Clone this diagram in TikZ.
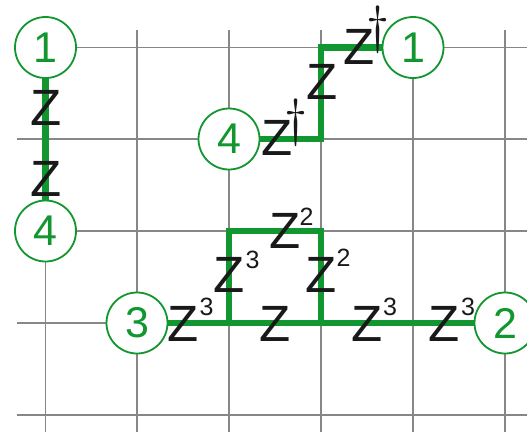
\documentclass[tikz,border=0pt]{standalone}
\usepackage{fontspec}
\setmainfont{Liberation Sans}
\newfontfamily\daggerfont{Latin Modern Roman}
\definecolor{pathgreen}{RGB}{18,150,48}
\definecolor{gridgray}{RGB}{135,135,135}
\definecolor{zblack}{RGB}{25,25,25}
\begin{document}
\begin{tikzpicture}[x=1pt,y=-1pt,
  gridline/.style={draw=gridgray,line width=1.1pt},
  bond/.style={draw=pathgreen,line width=6.8pt},
  site/.style={circle,draw=pathgreen,line width=1.8pt,fill=white,minimum size=61pt,inner sep=0pt,text=pathgreen,font=\fontsize{43}{43}\selectfont},
  zlab/.style={inner sep=0pt,text=zblack,font=\fontsize{51}{51}\selectfont},
  suplab/.style={inner sep=0pt,text=zblack,font=\fontsize{25}{25}\selectfont},
  daglab/.style={inner sep=0pt,text=zblack,font=\daggerfont\fontsize{52}{52}\selectfont}]
\useasboundingbox (0,0) rectangle (527,432);
% grid
\foreach \yy in {47.5,139,231,323,415} \draw[gridline] (17,\yy) -- (527,\yy);
\foreach \xx in {45.5,137,229,321,413,505} \draw[gridline] (\xx,30) -- (\xx,432);
% coordinates of the sites
\coordinate (a1) at (45.5,47.5);
\coordinate (a4) at (45.5,231);
\coordinate (b4) at (229,139);
\coordinate (b1) at (413,47.5);
\coordinate (c3) at (137,323);
\coordinate (c2) at (505,323);
\coordinate (u1) at (321,139);
\coordinate (u2) at (321,47.5);
\coordinate (l1) at (229,323);
\coordinate (l2) at (229,231);
\coordinate (l3) at (321,231);
\coordinate (l4) at (321,323);
% bonds
\draw[bond] (a1) -- (a4);
\draw[bond] (b4) -- (u1) -- (u2) -- (b1);
\draw[bond] (c3) -- (c2);
\draw[bond] (l1) -- (l2) -- (l3) -- (l4);
% sites
\node[site] (s1) at (a1) {1};
\node[site] (s4) at (a4) {4};
\node[site] (t4) at (b4) {4};
\node[site] (t1) at (b1) {1};
\node[site] (r3) at (c3) {3};
\node[site] (r2) at (c2) {2};
% labels left column
\node[zlab] (z1) at (46,108) {Z};
\node[zlab] (z2) at (46,178.5) {Z};
% upper path
\node[zlab] (z3) at (277,138) {Z};
\node[daglab] (d3) at (296,122.5) {†};
\node[zlab] (z4) at (322,82) {Z};
\node[zlab] (z5) at (359,47) {Z};
\node[daglab] (d5) at (378,30) {†};
% lower
\node[zlab] (z6) at (183.5,323.5) {Z};
\node[suplab] (x6) at (206.5,307) {3};
\node[zlab] (z7) at (275,323.5) {Z};
\node[zlab] (z8) at (367,323.5) {Z};
\node[suplab] (x8) at (390,307) {3};
\node[zlab] (z9) at (444.5,323.5) {Z};
\node[suplab] (x9) at (468,307) {3};
\node[zlab] (z10) at (229.5,274.5) {Z};
\node[suplab] (x10) at (252.5,259.5) {3};
\node[zlab] (z11) at (321.5,274.5) {Z};
\node[suplab] (x11) at (343.5,257.5) {2};
\node[zlab] (z12) at (285,231) {Z};
\node[suplab] (x12) at (306.5,217) {2};
\end{tikzpicture}
\end{document}
